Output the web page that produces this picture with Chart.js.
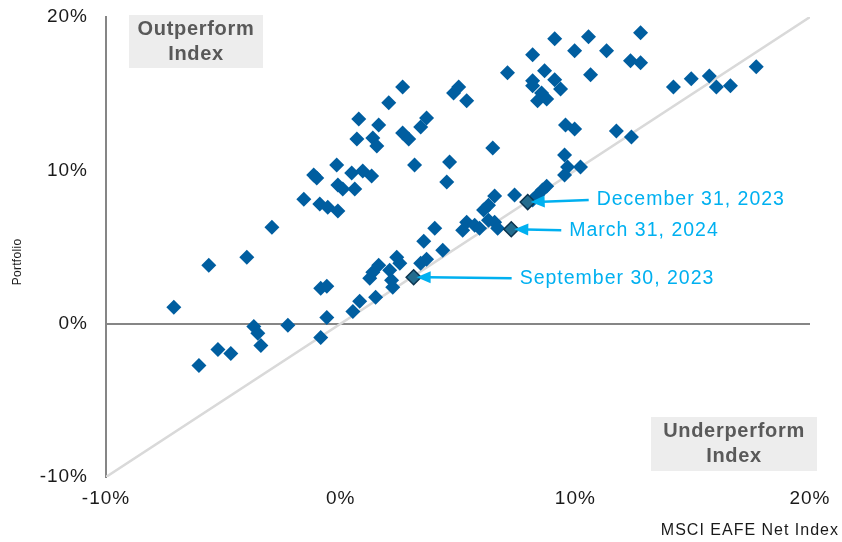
<!DOCTYPE html>
<html>
<head>
<meta charset="utf-8">
<script src="https://cdn.jsdelivr.net/npm/chart.js@4/dist/chart.umd.min.js"></script>
<style>
body { margin: 0; background: #fff; }
</style>
</head>
<body>
<canvas id="scatterChart" width="842" height="542"></canvas>
<script>

// DATA (returns in %)

const indexReturns = [
-7.11,-6.04,-5.62,-5.23,-4.68,-4.00,-3.70,-3.53,-3.40,-2.93,
-2.25,-1.57,-1.15,-1.02,-0.89,-0.55,-0.12,-0.17,0.47,0.94,
1.32,-0.12,0.09,0.60,-0.85,-0.59,-0.59,-0.85,0.52,0.81,
1.49,1.24,1.37,1.62,2.09,2.17,2.22,2.39,2.52,0.77,
1.62,0.69,1.37,1.54,2.05,2.64,3.66,3.41,2.64,2.90,
3.15,4.64,4.52,5.03,4.81,5.37,6.48,7.11,8.18,9.12,
9.97,10.56,11.33,12.78,12.35,12.78,10.65,8.18,8.18,8.69,
9.12,9.37,8.56,8.39,8.78,9.58,9.97,11.75,12.39,9.54,
9.67,10.22,9.54,14.18,14.94,15.71,16.01,16.61,17.71,8.78,
8.60,8.39,8.18,7.41,6.56,6.30,6.09,5.37,5.20,5.71,
5.92,6.30,6.56,6.69,4.01,3.54,4.35,3.66,3.41
];

const portfolioReturns = [
1.07,-2.73,3.81,-1.68,-1.94,4.33,-0.18,-0.63,-1.42,6.29,
-0.11,8.12,9.69,9.50,7.80,7.60,7.34,10.35,9.82,9.95,
9.63,9.04,8.78,8.78,2.31,2.44,0.41,-0.90,0.80,1.46,
1.72,2.96,3.35,3.81,3.48,2.83,2.37,4.33,3.94,13.35,
12.96,12.05,12.11,11.59,14.40,15.44,13.42,12.83,12.44,12.05,
10.35,10.54,9.24,15.44,15.05,14.53,11.46,16.36,17.54,18.58,
17.80,18.71,17.80,18.97,17.14,17.01,16.24,15.84,15.51,16.49,
15.90,15.31,15.05,14.53,14.66,12.96,12.70,12.57,12.18,11.00,
10.22,10.22,9.69,15.44,15.97,16.16,15.44,15.51,16.75,8.97,
8.71,8.39,8.06,8.39,8.32,7.73,7.41,6.62,6.10,6.42,
6.23,6.75,6.62,6.23,6.23,5.38,4.79,4.20,3.94
];

// highlighted quarter ends
const highlightLabels = ["September 30, 2023","December 31, 2023","March 31, 2024"];
const highlightIndex = [3.11,7.97,7.27];
const highlightPortfolio = [3.03,7.93,6.16];

// label offsets from the point, px
const labelDx = [106,69,58];
const labelDy = [1,-2,1];

const axisMin = -10;
const axisMax = 20;
const tickStep = 10;


const points = indexReturns.map((x,i) => ({x:x, y:portfolioReturns[i]}));
const highlights = highlightIndex.map((x,i) => ({x:x, y:highlightPortfolio[i]}));

const FONT = "'Liberation Sans', Arial, sans-serif";
Chart.defaults.font.family = FONT;
Chart.defaults.color = "#1a1a1a";

function drawBox(ctx, left, top, w, h, lines){
ctx.save();
ctx.fillStyle = "#ededed";
ctx.fillRect(left, top, w, h);
ctx.fillStyle = "#595959";
ctx.font = "bold 20px " + FONT;
ctx.letterSpacing = "0.7px";
ctx.textAlign = "center";
ctx.textBaseline = "middle";
ctx.fillText(lines[0], left + w/2, top + 14);
ctx.fillText(lines[1], left + w/2, top + 39);
ctx.restore();
}

const extras = {
id: "extras",
beforeDraw(chart){
chart.ctx.letterSpacing = "1px";
},
afterDatasetsDraw(chart){
const ctx = chart.ctx;
const xs = chart.scales.x, ys = chart.scales.y;
ctx.save();
ctx.letterSpacing = "1px";
highlightLabels.forEach((label,i) => {
const px = xs.getPixelForValue(highlightIndex[i]);
const py = ys.getPixelForValue(highlightPortfolio[i]);
const tx = px + labelDx[i];
const ty = py + labelDy[i];
const tipX = px + 3, tipY = py;
const tailX = tx - 8, tailY = ty;
const ang = Math.atan2(tipY - tailY, tipX - tailX);
ctx.strokeStyle = "#00b0f0";
ctx.fillStyle = "#00b0f0";
ctx.lineWidth = 2.5;
ctx.beginPath();
ctx.moveTo(tailX, tailY);
ctx.lineTo(tipX - 12*Math.cos(ang), tipY - 12*Math.sin(ang));
ctx.stroke();
ctx.beginPath();
ctx.moveTo(tipX, tipY);
ctx.lineTo(tipX - 14*Math.cos(ang) + 6*Math.sin(ang), tipY - 14*Math.sin(ang) - 6*Math.cos(ang));
ctx.lineTo(tipX - 14*Math.cos(ang) - 6*Math.sin(ang), tipY - 14*Math.sin(ang) + 6*Math.cos(ang));
ctx.closePath();
ctx.fill();
ctx.font = "19.5px " + FONT;
ctx.textAlign = "left";
ctx.textBaseline = "middle";
ctx.fillText(label, tx, ty);
});
ctx.restore();
},
afterDraw(chart){
const ctx = chart.ctx;
const a = chart.chartArea;
drawBox(ctx, a.left + 23, 15, 134, 53, ["Outperform","Index"]);
drawBox(ctx, a.right - 159, 417, 166, 54, ["Underperform","Index"]);

ctx.save();
ctx.fillStyle = "#1a1a1a";
ctx.font = "16px " + FONT;
ctx.letterSpacing = "1px";
ctx.textAlign = "right";
ctx.textBaseline = "middle";
ctx.fillText("MSCI EAFE Net Index", 839, 531);
ctx.translate(18, 262);
ctx.rotate(-Math.PI/2);
ctx.textAlign = "center";
ctx.font = "12px " + FONT;
ctx.letterSpacing = "0.3px";
ctx.fillText("Portfolio", 0, 0);
ctx.restore();
}
};


// SCATTER CHART

new Chart(document.getElementById("scatterChart"), {

type: "scatter",

data: {

datasets: [{

label: "Quarter ends",

data: highlights,

pointStyle: "rectRot",

pointRadius: 7.5,

backgroundColor: "#246c8e",

borderColor: "#0c3550",

borderWidth: 1.5,

order: 1

},{

label: "Portfolio vs Index",

data: points,

pointStyle: "rectRot",

pointRadius: 7.5,

backgroundColor: "#005ea0",

borderColor: "#005ea0",

borderWidth: 0,

order: 2

},{

type: "line",

label: "Equal return",

data: [{x:axisMin, y:axisMin},{x:axisMax, y:axisMax}],

borderColor: "#d9d9d9",

borderWidth: 2.5,

pointRadius: 0,

order: 3

}]

},

options: {

responsive: false,

animation: false,

layout: { padding: { top: 17, right: 32, left: 0, bottom: 0 } },

plugins: {

legend: { display: false },

tooltip: { enabled: false }

},

scales: {

x: {

type: "linear",

min: axisMin,

max: axisMax,

afterFit(scale){ scale.height = 65; },

ticks: { stepSize: tickStep, padding: 2, font: { size: 19 }, callback: v => v + "%" },

grid: { display: false },

border: { display: false }

},

y: {

type: "linear",

min: axisMin,

max: axisMax,

afterFit(scale){ scale.width = 106; scale.paddingTop = 0; scale.paddingBottom = 0; },

ticks: { stepSize: tickStep, padding: 18, font: { size: 19 }, callback: v => v + "%" },

grid: {

drawTicks: false,

lineWidth: 2,

color: c => c.tick && c.tick.value === 0 ? "#868686" : "rgba(0,0,0,0)"

},

border: { display: true, color: "#868686", width: 2 }

}

}

},

plugins: [extras]

});

</script>
</body>
</html>
